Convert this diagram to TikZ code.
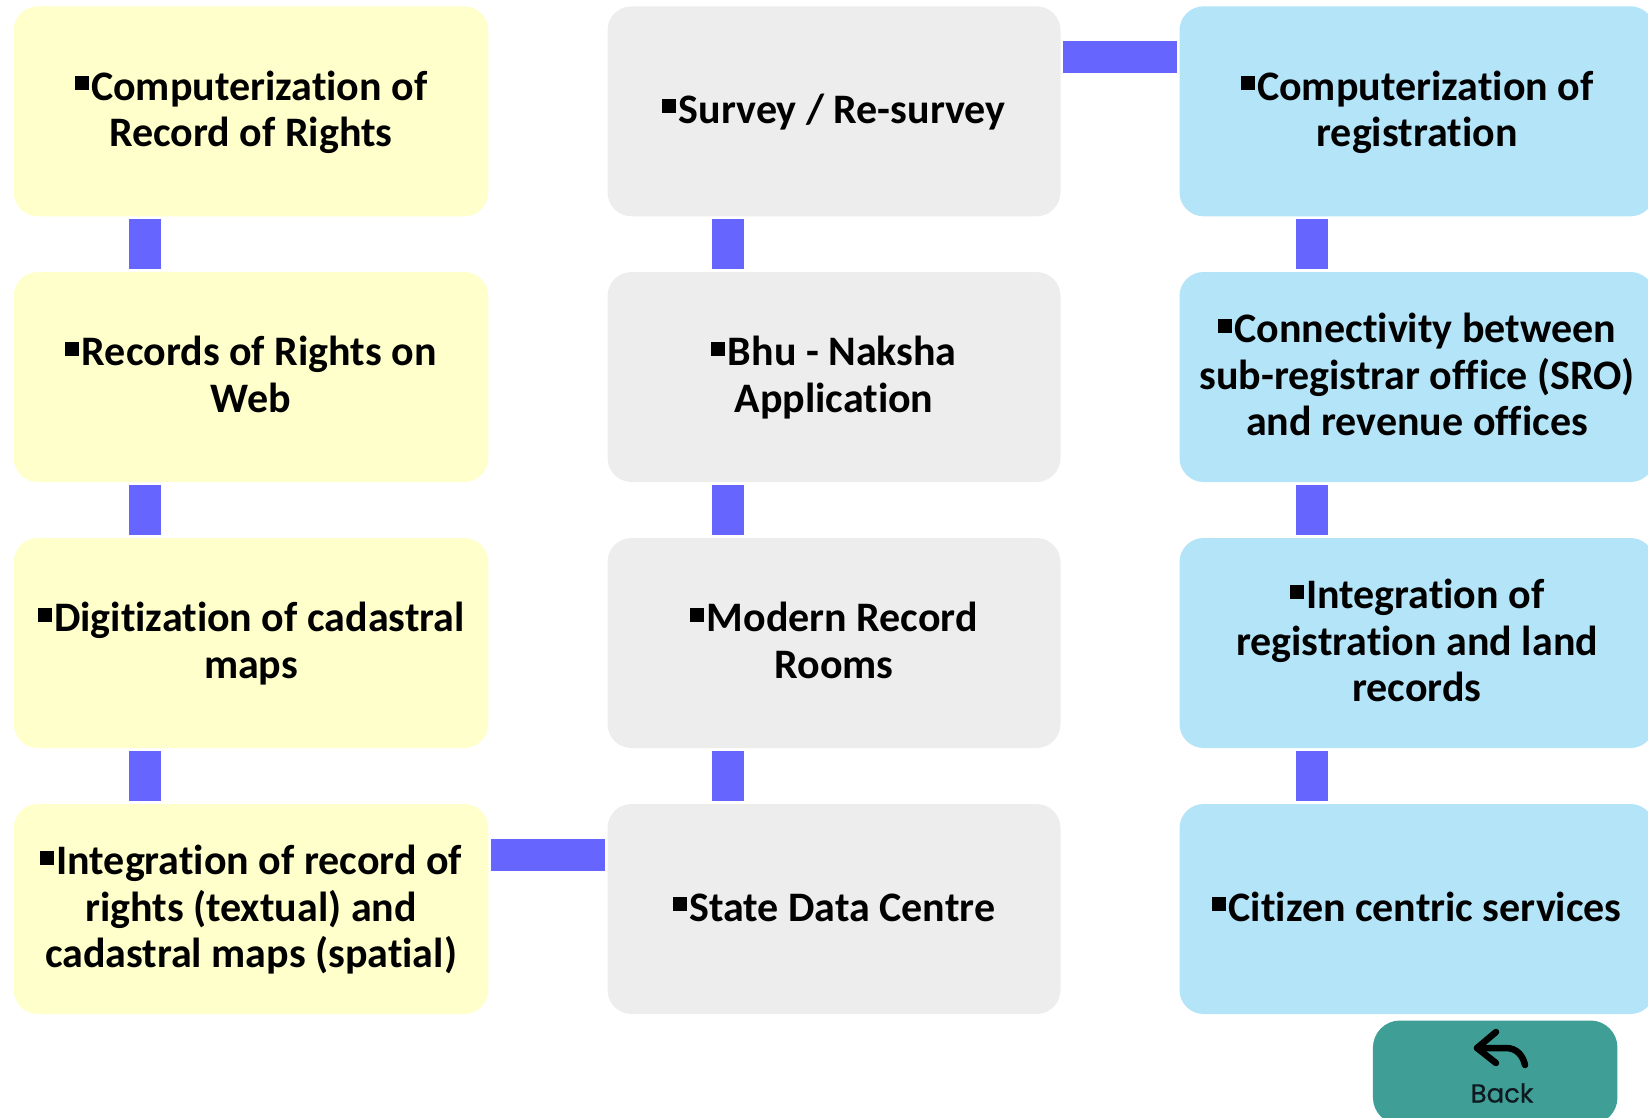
\documentclass[tikz,border=0pt]{standalone}
\usepackage{fontspec}
\setmainfont[Ligatures=NoCommon]{Carlito}
\newfontfamily\backfont[FakeBold=0.6]{Poppins}
\definecolor{cyellow}{HTML}{FFFFCC}
\definecolor{cgray}{HTML}{EDEDED}
\definecolor{cblue}{HTML}{B4E4F8}
\definecolor{cbar}{HTML}{6666FF}
\definecolor{cteal}{HTML}{3F9F97}
\definecolor{cink}{HTML}{0E1A20}
\newcommand{\sqb}{\rule[0pt]{0pt}{36pt}\rule[10pt]{14pt}{14pt}\hspace{2.5pt}}
\newcommand{\lastl}{\rule[-12pt]{0pt}{12pt}}
\tikzset{
  card/.style={rounded corners=24pt,inner sep=0pt,outer sep=0pt,minimum height=210pt,
    align=center,text=black,font=\fontsize{42}{46.2}\selectfont\bfseries},
  yellowcard/.style={card,fill=cyellow,minimum width=474.5pt},
  graycard/.style={card,fill=cgray,minimum width=453pt},
  bluecard/.style={card,fill=cblue,minimum width=475pt},
  vbar/.style={draw=cbar,line width=32pt,shorten <=3pt,shorten >=3pt},
  hbar/.style={draw=cbar,line width=32pt,shorten <=2.5pt,shorten >=2.5pt},
  backbtn/.style={fill=cteal,rounded corners=27pt,inner sep=0pt,outer sep=0pt,minimum width=244.5pt,minimum height=104pt},
  backtext/.style={inner sep=0pt,text=cink,font=\backfont\fontsize{26}{26}\selectfont},
  backarrow/.style={draw=black,line width=6.5pt,line cap=round,line join=round}
}
\begin{document}
\begin{tikzpicture}[x=1pt,y=-1pt]
\useasboundingbox (0,0) rectangle (1648,1118);
% column 1
\node[yellowcard] (a1) at (251,111.3) {\sqb Computerization of\\Record of Rights\lastl};
\node[yellowcard] (a2) at (251,377) {\sqb Records of Rights on\\Web\lastl};
\node[yellowcard] (a3) at (251,643) {\sqb Digitization of cadastral\\maps\lastl};
\node[yellowcard] (a4) at (251,909) {\sqb Integration of record of\\rights (textual) and\\cadastral maps (spatial)\lastl};
% column 2
\node[graycard] (b1) at (834,111.3) {\sqb Survey / Re-survey\lastl};
\node[graycard] (b2) at (834,377) {\sqb Bhu - Naksha\\Application\lastl};
\node[graycard] (b3) at (834,643) {\sqb Modern Record\\Rooms\lastl};
\node[graycard] (b4) at (834,909) {\sqb State Data Centre\lastl};
% column 3
\node[bluecard] (c1) at (1417,111.3) {\sqb Computerization of\\registration\lastl};
\node[bluecard] (c2) at (1417,377) {\sqb Connectivity between\\sub-registrar office (SRO)\\and revenue offices\lastl};
\node[bluecard] (c3) at (1417,643) {\sqb Integration of\\registration and land\\records\lastl};
\node[bluecard] (c4) at (1417,909) {\sqb Citizen centric services\lastl};
% vertical connectors
\draw[vbar] ([xshift=131pt]a1.south west) -- ([xshift=131pt]a2.north west);
\draw[vbar] ([xshift=131pt]a2.south west) -- ([xshift=131pt]a3.north west);
\draw[vbar] ([xshift=131pt]a3.south west) -- ([xshift=131pt]a4.north west);
\draw[vbar] ([xshift=120.5pt]b1.south west) -- ([xshift=120.5pt]b2.north west);
\draw[vbar] ([xshift=120.5pt]b2.south west) -- ([xshift=120.5pt]b3.north west);
\draw[vbar] ([xshift=120.5pt]b3.south west) -- ([xshift=120.5pt]b4.north west);
\draw[vbar] ([xshift=132.5pt]c1.south west) -- ([xshift=132.5pt]c2.north west);
\draw[vbar] ([xshift=132.5pt]c2.south west) -- ([xshift=132.5pt]c3.north west);
\draw[vbar] ([xshift=132.5pt]c3.south west) -- ([xshift=132.5pt]c4.north west);
% horizontal connectors
\draw[hbar] ([yshift=-50.5pt]a4.north east) -- ([yshift=-50.5pt]b4.north west);
\draw[hbar] ([yshift=-50.5pt]b1.north east) -- ([yshift=-50.5pt]c1.north west);
% back button
\node[backbtn] (back) at (1495.2,1072.5) {};
\node[backtext] (backlabel) at (1502,1093) {Back};
\coordinate (tip) at (1477,1048);
\draw[backarrow] (1496,1032) -- (tip) -- (1496,1063);
\draw[backarrow] (tip) -- (1506,1048) .. controls (1517,1048) and (1523,1056) .. (1525,1065);
\end{tikzpicture}
\end{document}
